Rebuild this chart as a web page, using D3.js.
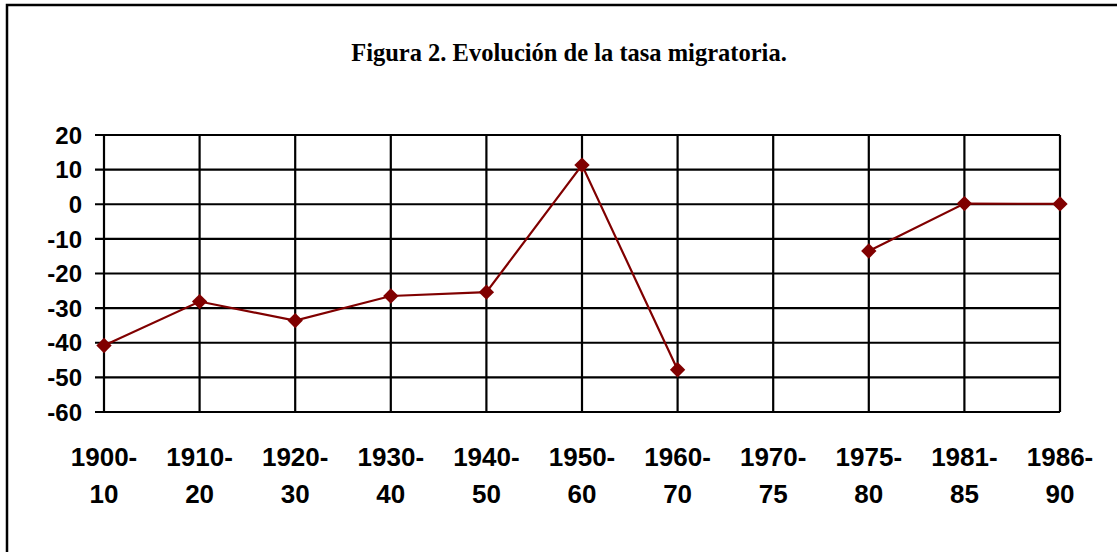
<!DOCTYPE html>
<html>
<head>
<meta charset="utf-8">
<script src="https://cdn.jsdelivr.net/npm/d3@7"></script>
<style>
    body { margin: 0; background: #fff; }
    svg { display: block; }
</style>
</head>
<body>
<div id="chart"></div>
<script>

    var periodos = ['1900-10', '1910-20', '1920-30', '1930-40', '1940-50', '1950-60', '1960-70', '1970-75', '1975-80', '1981-85', '1986-90'];

    // tasa migratoria, 1970-75 sin dato
    var tasa = [-40.8, -28.1, -33.6, -26.5, -25.4, 11.3, -47.8, null, -13.5, 0.2, 0.1];

    var yTicks = [20, 10, 0, -10, -20, -30, -40, -50, -60];

    var titulo = 'Figura 2. Evolución de la tasa migratoria.';


    var width = 1117,
        height = 552;

    var svg = d3.select('#chart').append('svg')
        .attr('width', width)
        .attr('height', height);

    // marco (solo arriba e izquierda visibles)
    svg.append('path')
        .attr('d', 'M7,' + height + 'V5H' + width)
        .attr('fill', 'none')
        .attr('stroke', '#000')
        .attr('stroke-width', 2.5);

    svg.append('text')
        .attr('x', 569)
        .attr('y', 61)
        .attr('text-anchor', 'middle')
        .style('font-family', '"Liberation Serif", "Times New Roman", serif')
        .style('font-weight', 'bold')
        .style('font-size', '24.5px')
        .text(titulo);

    var x = d3.scalePoint()
        .domain(periodos)
        .range([104, 1060]);

    var y = d3.scaleLinear()
        .domain([-60, 20])
        .range([412, 135]);

    // lineas horizontales
    svg.append('g')
        .selectAll('line')
        .data(yTicks)
        .enter().append('line')
        .attr('x1', 95)
        .attr('x2', 1060)
        .attr('y1', function(d) { return y(d); })
        .attr('y2', function(d) { return y(d); })
        .attr('stroke', '#000')
        .attr('stroke-width', 2.2);

    // lineas verticales
    svg.append('g')
        .selectAll('line')
        .data(periodos)
        .enter().append('line')
        .attr('x1', function(d) { return x(d); })
        .attr('x2', function(d) { return x(d); })
        .attr('y1', y(20))
        .attr('y2', y(-60))
        .attr('stroke', '#000')
        .attr('stroke-width', 2.2);

    // etiquetas eje y
    svg.append('g')
        .selectAll('text')
        .data(yTicks)
        .enter().append('text')
        .attr('x', 82)
        .attr('y', function(d) { return y(d); })
        .attr('dy', '0.36em')
        .attr('text-anchor', 'end')
        .style('font-family', '"Liberation Sans", Arial, sans-serif')
        .style('font-weight', 'bold')
        .style('font-size', '24px')
        .text(function(d) { return d; });

    // etiquetas eje x en dos lineas
    var xl = svg.append('g')
        .selectAll('text')
        .data(periodos)
        .enter().append('text')
        .attr('text-anchor', 'middle')
        .style('font-family', '"Liberation Sans", Arial, sans-serif')
        .style('font-weight', 'bold')
        .style('font-size', '26px');

    xl.append('tspan')
        .attr('x', function(d) { return x(d); })
        .attr('y', 466)
        .text(function(d) { return d.split('-')[0] + '-'; });

    xl.append('tspan')
        .attr('x', function(d) { return x(d); })
        .attr('y', 503)
        .text(function(d) { return d.split('-')[1]; });

    var puntos = periodos.map(function(p, i) { return {p: p, v: tasa[i]}; });

    var line = d3.line()
        .defined(function(d) { return d.v !== null; })
        .x(function(d) { return x(d.p); })
        .y(function(d) { return y(d.v); });

    svg.append('path')
        .datum(puntos)
        .attr('d', line)
        .attr('fill', 'none')
        .attr('stroke', '#800000')
        .attr('stroke-width', 2.2);

    var diamond = d3.symbol().type(d3.symbolDiamond2).size(150);

    svg.append('g')
        .selectAll('path')
        .data(puntos.filter(function(d) { return d.v !== null; }))
        .enter().append('path')
        .attr('d', diamond)
        .attr('transform', function(d) { return 'translate(' + x(d.p) + ',' + y(d.v) + ')'; })
        .attr('fill', '#800000');

</script>
</body>
</html>
